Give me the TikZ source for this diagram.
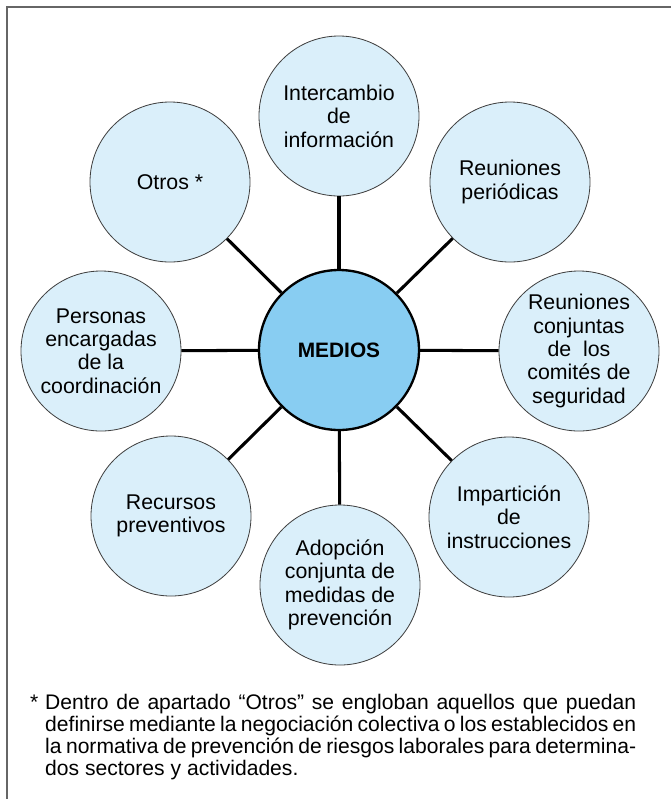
\documentclass[tikz,border=0pt]{standalone}
\usepackage{fontspec}
\setmainfont{Liberation Sans}
\definecolor{burbuja}{HTML}{DAEFFA}
\definecolor{centro}{HTML}{88CDF2}
\tikzset{
  medio/.style={circle, draw=black!75, line width=0.7pt, fill=burbuja,
    minimum size=4.8cm, inner sep=0pt, align=center,
    font=\fontsize{18.2}{20}\selectfont},
  nucleo/.style={medio, fill=centro, draw=black, line width=2pt,
    font=\fontsize{17.8}{20}\selectfont\bfseries},
  enlace/.style={line width=2.6pt}
}
\newcommand\lineanota[1]{\makebox[17.73cm][s]{#1}}
\begin{document}
\begin{tikzpicture}[x=0.03cm, y=-0.03cm]
  \useasboundingbox (0,0) rectangle (671,799);
  \clip (0,0) rectangle (671,799);
  % marco
  \draw[black!60, line width=1.2pt] (7,7) rectangle (700,830);
  % circulo central
  \node[nucleo] (medios) at (339,350) {MEDIOS};
  % circulos exteriores
  \node[medio] (intercambio) at (339,116) {Intercambio\\de\\información};
  \node[medio] (periodicas)  at (510,182) {Reuniones\\periódicas};
  \node[medio] (comites)     at (579,351) {Reuniones\\conjuntas\\de\ \ los\\comités de\\seguridad};
  \node[medio] (imparticion) at (509,517) {Impartición\\de\\instrucciones};
  \node[medio] (adopcion)    at (340,585) {Adopción\\conjunta de\\medidas de\\prevención};
  \node[medio] (recursos)    at (171,516) {Recursos\\preventivos};
  \node[medio] (personas)    at (101,351) {Personas\\encargadas\\de la\\coordinación};
  \node[medio] (otros)       at (170,182) {Otros *};
  % enlaces
  \draw[enlace] (medios) -- (intercambio);
  \draw[enlace] (medios) -- (periodicas);
  \draw[enlace] (medios) -- (comites);
  \draw[enlace] (medios) -- (imparticion);
  \draw[enlace] (medios) -- (adopcion);
  \draw[enlace] (medios) -- (recursos);
  \draw[enlace] (medios) -- (personas);
  \draw[enlace] (medios) -- (otros);
  % nota al pie
  \node[anchor=base west, inner sep=0pt, font=\fontsize{18}{18.7}\selectfont] (asterisco) at (30,709) {*};
  \node[anchor=north west, inner sep=0pt, align=left, font=\fontsize{18}{18.7}\selectfont] (nota) at (45,694)
    {\lineanota{Dentro de apartado “Otros” se engloban aquellos que puedan}\\
     \lineanota{definirse mediante la negociación colectiva o los establecidos en}\\
     \lineanota{la normativa de prevención de riesgos laborales para determina-}\\
     dos sectores y actividades.};
\end{tikzpicture}
\end{document}
